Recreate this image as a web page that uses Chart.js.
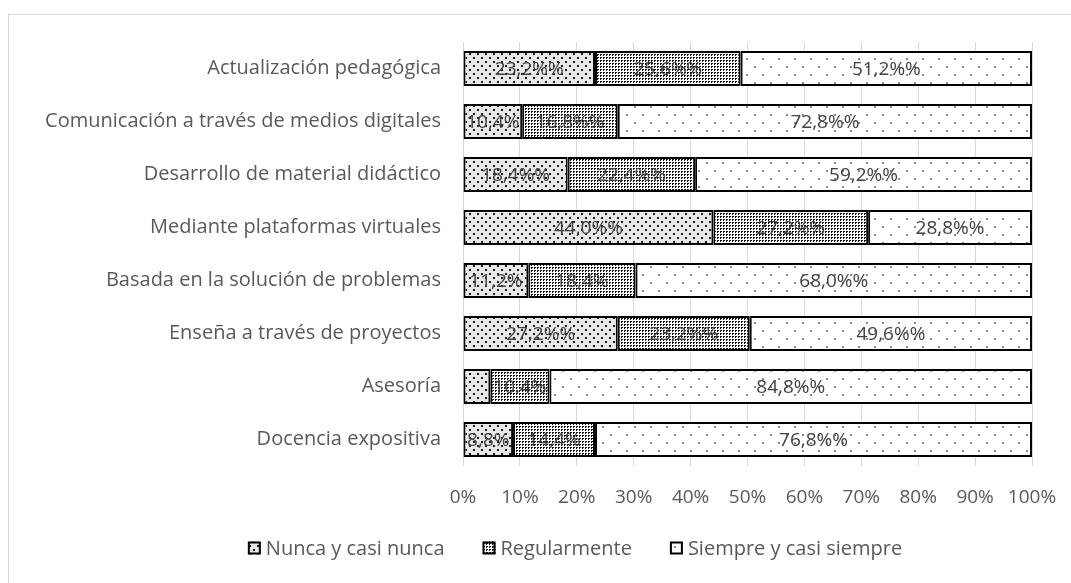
<!DOCTYPE html>
<html>
<head>
<meta charset="utf-8">
<script src="https://cdn.jsdelivr.net/npm/chart.js@4/dist/chart.umd.min.js"></script>
<style>
  body { margin: 0; background: #fff; overflow: hidden; }
  #frame { position: absolute; left: 8px; top: 14px; width: 1100px; height: 620px; border: 1px solid #d9d9d9; }
  #wrap { position: absolute; left: 0; top: 0; width: 1071px; height: 583px; }
</style>
</head>
<body>
<div id="frame"></div>
<div id="wrap"><canvas id="canvas" width="1071" height="583"></canvas></div>
<script>
//****DATA****//

var categories = [
  'Actualización pedagógica',
  'Comunicación a través de medios digitales',
  'Desarrollo de material didáctico',
  'Mediante plataformas virtuales',
  'Basada en la solución de problemas',
  'Enseña a través de proyectos',
  'Asesoría',
  'Docencia expositiva'
];

var seriesNames = ['Nunca y casi nunca', 'Regularmente', 'Siempre y casi siempre'];

var nunca = [23.2, 10.4, 18.4, 44.0, 11.2, 27.2, 4.8, 8.8];
var regular = [25.6, 16.8, 22.4, 27.2, 18.4, 23.2, 10.4, 14.4];
var siempre = [51.2, 72.8, 59.2, 28.8, 68.0, 49.6, 84.8, 76.8];

// label texts as printed on the bars
var nuncaLabels = ['23,2%%', '10,4%', '18,4%%', '44,0%%', '11,2%', '27,2%%', '', '8,8%'];
var regularLabels = ['25,6%%', '16,8%%', '22,4%%', '27,2%%', '18,4%', '23,2%%', '10,4%', '14,4%'];
var siempreLabels = ['51,2%%', '72,8%%', '59,2%%', '28,8%%', '68,0%%', '49,6%%', '84,8%%', '76,8%%'];

var xTicks = [0, 10, 20, 30, 40, 50, 60, 70, 80, 90, 100];

//****PATTERNS****//

function makePattern(size, bg, dotColor, dots, dotSize) {
  var c = document.createElement('canvas');
  c.width = size;
  c.height = size;
  var g = c.getContext('2d');
  g.fillStyle = bg;
  g.fillRect(0, 0, size, size);
  g.fillStyle = dotColor;
  for (var d of dots) {
    g.fillRect(d[0], d[1], dotSize, dotSize);
  }
  return g.createPattern(c, 'repeat');
}

var ctx = document.getElementById('canvas').getContext('2d');

var patNunca = makePattern(8, '#e8e8e8', '#1a1a1a', [[1, 1], [5, 5]], 2);
var patRegular = makePattern(3, '#ffffff', '#111111', [[0, 0], [1, 0], [0, 1]], 1);
var patSiempre = makePattern(16, '#ffffff', '#7a8aa3', [[2, 2], [10, 10]], 2);

//****HELPERS****//

function share(i, arr) {
  var total = nunca[i] + regular[i] + siempre[i];
  return arr[i] / total * 100;
}

function shares(arr) {
  return arr.map(function (v, i) { return share(i, arr); });
}

var allLabels = [nuncaLabels, regularLabels, siempreLabels];
var font = 'Open Sans';

var barLabelPlugin = {
  id: 'barLabels',
  afterDatasetsDraw: function (chart) {
    var c = chart.ctx;
    c.save();
    c.font = '19px "' + font + '"';
    c.fillStyle = '#404040';
    c.textAlign = 'center';
    c.textBaseline = 'middle';
    chart.data.datasets.forEach(function (ds, di) {
      var meta = chart.getDatasetMeta(di);
      meta.data.forEach(function (bar, i) {
        var txt = allLabels[di][i];
        if (!txt) return;
        var p = bar.getProps(['x', 'y', 'base'], true);
        c.fillText(txt, (p.x + p.base) / 2, p.y + 1);
      });
    });
    c.restore();
  }
};

// legend drawn by hand so the item spacing can match the original
var legendPlugin = {
  id: 'bottomLegend',
  afterDraw: function (chart) {
    var c = chart.ctx;
    var box = 13, textGap = 5, itemGap = 38, centerX = 575, y = 548;
    c.save();
    c.font = '20px "' + font + '"';
    var total = 0;
    var widths = chart.data.datasets.map(function (ds) {
      var w = c.measureText(ds.label).width;
      total += box + textGap + w;
      return w;
    });
    total += itemGap * (widths.length - 1);
    var x = centerX - total / 2;
    chart.data.datasets.forEach(function (ds, i) {
      c.fillStyle = ds.backgroundColor;
      c.fillRect(x, y - box / 2, box, box);
      c.strokeStyle = '#000';
      c.lineWidth = 2;
      c.strokeRect(x + 1, y - box / 2 + 1, box - 2, box - 2);
      c.fillStyle = '#595959';
      c.textAlign = 'left';
      c.textBaseline = 'middle';
      c.fillText(ds.label, x + box + textGap, y + 1);
      x += box + textGap + widths[i] + itemGap;
    });
    c.restore();
  }
};

//****CHART****//

var chart = new Chart(ctx, {
  type: 'bar',
  data: {
    labels: categories,
    datasets: [
      { label: seriesNames[0], data: shares(nunca), backgroundColor: patNunca, borderColor: '#000', borderWidth: 2, borderSkipped: false },
      { label: seriesNames[1], data: shares(regular), backgroundColor: patRegular, borderColor: '#000', borderWidth: 2, borderSkipped: false },
      { label: seriesNames[2], data: shares(siempre), backgroundColor: patSiempre, borderColor: '#000', borderWidth: 2, borderSkipped: false }
    ]
  },
  options: {
    indexAxis: 'y',
    responsive: false,
    animation: false,
    layout: { padding: { top: 42, right: 39, left: 0, bottom: 59 } },
    datasets: { bar: { categoryPercentage: 1, barPercentage: 0.66 } },
    scales: {
      x: {
        stacked: true,
        min: 0,
        max: 100,
        afterBuildTicks: function (scale) {
          scale.ticks = xTicks.map(function (v) { return { value: v }; });
        },
        ticks: {
          color: '#595959',
          font: { family: font, size: 19 },
          padding: 20,
          maxRotation: 0,
          callback: function (v) { return v + '%'; }
        },
        grid: { color: '#d9d9d9', lineWidth: 1, drawTicks: false },
        border: { display: false },
        afterFit: function (scale) {
          scale.height = 58;
          scale.paddingLeft = 0;
          scale.paddingRight = 0;
        }
      },
      y: {
        stacked: true,
        ticks: {
          color: '#595959',
          font: { family: font, size: 20 },
          padding: 14
        },
        grid: { display: false },
        border: { display: false },
        afterFit: function (scale) { scale.width = 463; }
      }
    },
    plugins: {
      tooltip: { enabled: false },
      legend: { display: false }
    }
  },
  plugins: [barLabelPlugin, legendPlugin]
});
</script>
</body>
</html>
